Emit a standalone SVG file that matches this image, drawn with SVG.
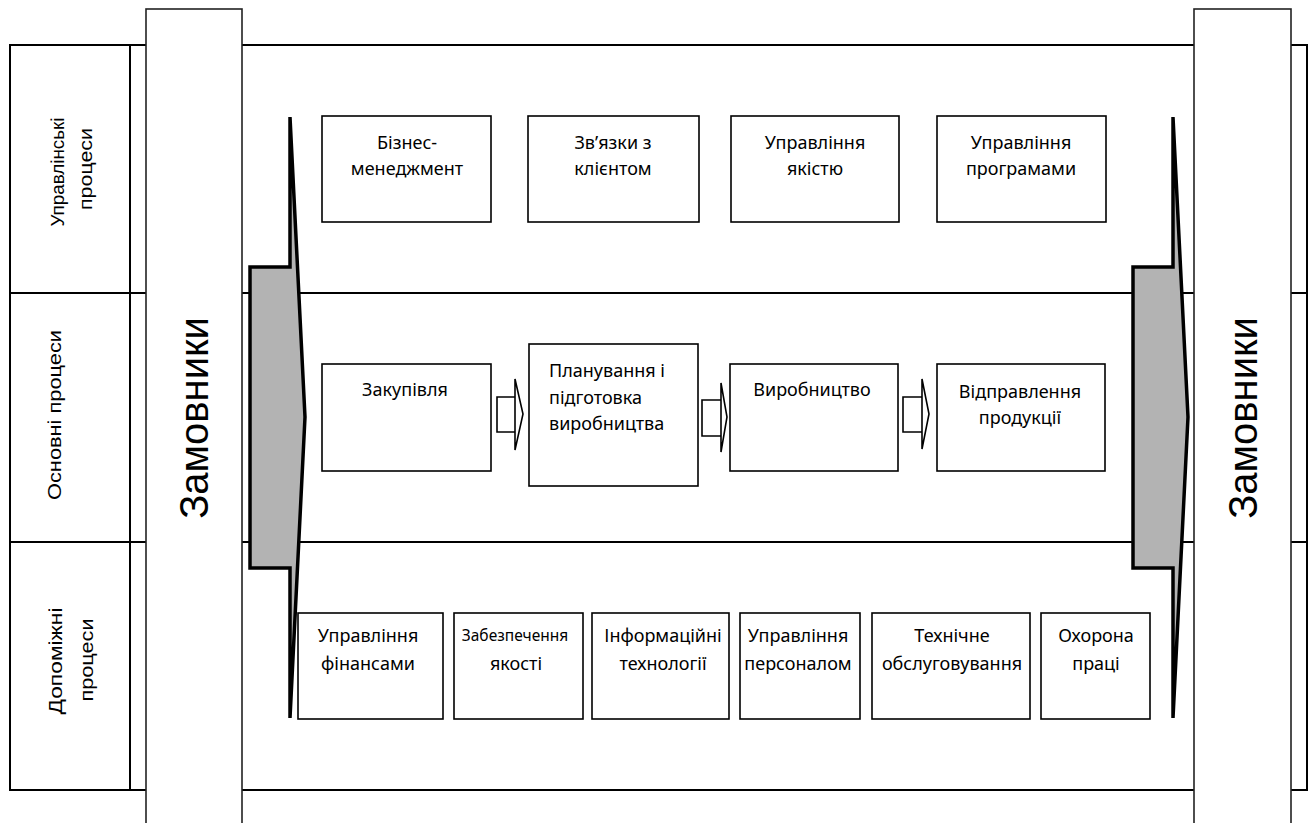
<svg xmlns="http://www.w3.org/2000/svg" width="1312" height="823" viewBox="0 0 1312 823">
<style>
.grid{stroke:#000;stroke-width:2;fill:none}
.col{fill:#fff;stroke:#222;stroke-width:1.6}
.big{fill:#b3b3b3;stroke:#000;stroke-width:3.5;stroke-linejoin:miter}
.box{fill:#fff;stroke:#000;stroke-width:1.6}
.conn{fill:#fff;stroke:#000;stroke-width:1.6;stroke-linejoin:miter}
.t{font-family:"Noto Sans","Open Sans",sans-serif;font-size:18px;fill:#000;text-anchor:middle}
.ts{font-family:"Noto Sans","Open Sans",sans-serif;font-size:15.5px;fill:#000;text-anchor:middle}
.lane{font-family:"Liberation Sans",Arial,sans-serif;font-size:18px;fill:#000;text-anchor:middle}
.cust{font-family:"Liberation Sans",Arial,sans-serif;font-size:40px;fill:#000;text-anchor:middle}
</style>
<g id="lanes">
<rect class="grid" x="10" y="45" width="1297" height="745"/>
<line class="grid" x1="10" y1="293" x2="1307" y2="293"/>
<line class="grid" x1="10" y1="542" x2="1307" y2="542"/>
<line class="grid" x1="130" y1="45" x2="130" y2="790"/>
<text class="lane" transform="translate(64,172) rotate(-90)" textLength="109" lengthAdjust="spacingAndGlyphs">Управлінські</text>
<text class="lane" transform="translate(92,169) rotate(-90)" textLength="82" lengthAdjust="spacingAndGlyphs">процеси</text>
<text class="lane" transform="translate(61,415) rotate(-90)" textLength="170" lengthAdjust="spacingAndGlyphs">Основні процеси</text>
<text class="lane" transform="translate(62,661) rotate(-90)" textLength="107" lengthAdjust="spacingAndGlyphs">Допоміжні</text>
<text class="lane" transform="translate(93,660) rotate(-90)" textLength="83" lengthAdjust="spacingAndGlyphs">процеси</text>
</g>
<g id="customers-left">
<rect class="col" x="146" y="9" width="96" height="830"/>
<text class="cust" transform="translate(208,418) rotate(-90)">Замовники</text>
</g>
<g id="customers-right">
<rect class="col" x="1194" y="9" width="97" height="830"/>
<text class="cust" transform="translate(1257,418) rotate(-90)">Замовники</text>
</g>
<g id="flow-left">
<polygon class="big" points="290,117 290,267 250,267 250,568 290,568 290,718 305,417"/>
</g>
<g id="flow-right">
<polygon class="big" points="1173,117 1173,267 1133,267 1133,568 1173,568 1173,718 1188,417"/>
</g>
<g id="n-biz">
<rect class="box" x="322" y="116" width="169" height="106"/>
<text class="t" x="407" y="149">Бізнес-</text>
<text class="t" x="407" y="175">менеджмент</text>
</g>
<g id="n-client">
<rect class="box" x="528" y="116" width="171" height="106"/>
<text class="t" x="613" y="149">Зв’язки з</text>
<text class="t" x="613" y="175">клієнтом</text>
</g>
<g id="n-quality">
<rect class="box" x="731" y="116" width="168" height="106"/>
<text class="t" x="815" y="149">Управління</text>
<text class="t" x="815" y="175">якістю</text>
</g>
<g id="n-programs">
<rect class="box" x="937" y="116" width="169" height="106"/>
<text class="t" x="1021" y="149">Управління</text>
<text class="t" x="1021" y="175">програмами</text>
</g>
<g id="n-purchase">
<rect class="box" x="322" y="364" width="169" height="107"/>
<text class="t" x="405" y="396">Закупівля</text>
</g>
<g id="n-planning">
<rect class="box" x="529" y="344" width="169" height="142"/>
<text class="t" x="549" y="377" style="text-anchor:start">Планування і</text>
<text class="t" x="549" y="404" style="text-anchor:start">підготовка</text>
<text class="t" x="549" y="430" style="text-anchor:start">виробництва</text>
</g>
<g id="n-production">
<rect class="box" x="730" y="364" width="168" height="107"/>
<text class="t" x="812" y="396">Виробництво</text>
</g>
<g id="n-shipping">
<rect class="box" x="937" y="364" width="168" height="107"/>
<text class="t" x="1020" y="398">Відправлення</text>
<text class="t" x="1020" y="424">продукції</text>
</g>
<g id="n-finance">
<rect class="box" x="298" y="613" width="145" height="106"/>
<text class="t" x="368" y="642">Управління</text>
<text class="t" x="368" y="670">фінансами</text>
</g>
<g id="n-qa">
<rect class="box" x="454" y="613" width="129" height="106"/>
<text class="ts" x="515" y="641">Забезпечення</text>
<text class="t" x="516" y="670">якості</text>
</g>
<g id="n-it">
<rect class="box" x="592" y="613" width="137" height="106"/>
<text class="t" x="663" y="642">Інформаційні</text>
<text class="t" x="663" y="670">технології</text>
</g>
<g id="n-hr">
<rect class="box" x="740" y="613" width="120" height="106"/>
<text class="t" x="798" y="642">Управління</text>
<text class="t" x="798" y="670">персоналом</text>
</g>
<g id="n-maint">
<rect class="box" x="872" y="613" width="158" height="106"/>
<text class="t" x="952" y="642">Технічне</text>
<text class="t" x="952" y="670">обслуговування</text>
</g>
<g id="n-safety">
<rect class="box" x="1041" y="613" width="109" height="106"/>
<text class="t" x="1096" y="642">Охорона</text>
<text class="t" x="1096" y="670">праці</text>
</g>
<g id="connectors">
<path class="conn" d="M497,397 L515,397 L515,379 L523,414 L515,450 L515,432 L497,432 Z M515,397 L515,432"/>
<path class="conn" d="M702,400 L721,400 L721,383 L727,417 L721,452 L721,436 L702,436 Z M721,400 L721,436"/>
<path class="conn" d="M903,397 L922,397 L922,379 L929,414 L922,449 L922,432 L903,432 Z M922,397 L922,432"/>
</g>
</svg>
